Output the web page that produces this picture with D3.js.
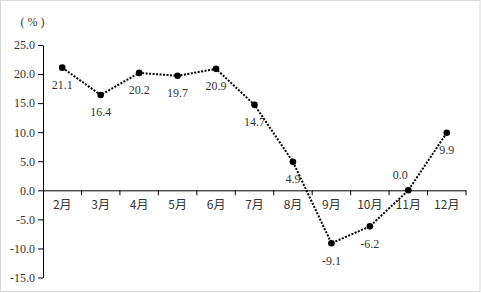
<!DOCTYPE html>
<html><head><meta charset="utf-8">
<script src="https://cdn.jsdelivr.net/npm/d3@7"></script>
<style>
html,body{margin:0;padding:0;background:#fff;}
svg{display:block;}
text{font-family:"Liberation Serif","Times New Roman","Noto Sans CJK SC",serif;fill:#333;}
</style></head>
<body><svg id="c" width="481" height="293"></svg>
<script>
const months = ["2月","3月","4月","5月","6月","7月","8月","9月","10月","11月","12月"];
const values = [21.1,16.4,20.2,19.7,20.9,14.7,4.9,-9.1,-6.2,0.0,9.9];
const yTicks = [25,20,15,10,5,0,-5,-10,-15];
const unitLabel = "( % )";

const fmt = v => d3.format(".1f")(v).replace("\u2212","-");

const svg = d3.select("#c");
svg.append("rect").attr("x",0.5).attr("y",0.5).attr("width",479.5).attr("height",291)
  .attr("fill","#fff").attr("stroke","#d9d9d9");

const x = d3.scaleBand().domain(months).range([43,466]);
const y = d3.scaleLinear().domain([-15,25]).range([277.5,45]);

// y axis
const ya = svg.append("g").attr("transform","translate(43,0)")
  .call(d3.axisLeft(y).tickValues(yTicks).tickFormat(fmt).tickSize(5).tickSizeOuter(0).tickPadding(3));
ya.select(".domain").attr("stroke","#000");
ya.selectAll(".tick line").attr("stroke","#000");
ya.selectAll("text").attr("font-size",12).style("fill","#333");

// x axis
const xa = svg.append("g").attr("transform",`translate(0,${y(0)})`)
  .call(d3.axisBottom(x).tickSize(0).tickSizeOuter(0).tickPadding(12));
xa.select(".domain").attr("stroke","#000");
xa.selectAll("text").attr("font-size",12).style("fill","#333")
  .style("font-family","'Noto Sans CJK SC','Liberation Serif',sans-serif").attr("dy","0.55em");
svg.append("g").selectAll("line").data(months).join("line")
  .attr("x1",d=>x(d)+x.bandwidth()).attr("x2",d=>x(d)+x.bandwidth())
  .attr("y1",y(0)).attr("y2",y(0)+5).attr("stroke","#000");

// unit
svg.append("text").attr("x",32.5).attr("y",26).attr("text-anchor","middle")
  .attr("font-size",12).text(unitLabel);

const data = months.map((m,i)=>({m,v:values[i]}));
const cx = d=>x(d.m)+x.bandwidth()/2;

svg.append("path").datum(data)
  .attr("d",d3.line().x(cx).y(d=>y(d.v)))
  .attr("fill","none").attr("stroke","#000").attr("stroke-width",2).attr("stroke-dasharray","2,1.5");

// leader for 0.0
data.forEach(d=>{
  if(d.v===0){
    svg.append("line").attr("x1",cx(d)-6).attr("y1",y(d.v)-7).attr("x2",cx(d)).attr("y2",y(d.v))
      .attr("stroke","#aaa").attr("stroke-width",0.8);
  }
});

svg.append("g").selectAll("circle").data(data).join("circle")
  .attr("cx",cx).attr("cy",d=>y(d.v)).attr("r",3.3).attr("fill","#000");

svg.append("g").selectAll("text").data(data).join("text")
  .attr("x",d=>d.v===0?cx(d)-8:cx(d))
  .attr("y",d=>d.v===0?y(d.v)-11.5:y(d.v)+21.5)
  .attr("text-anchor","middle").attr("font-size",12)
  .text(d=>fmt(d.v));
</script></body></html>
